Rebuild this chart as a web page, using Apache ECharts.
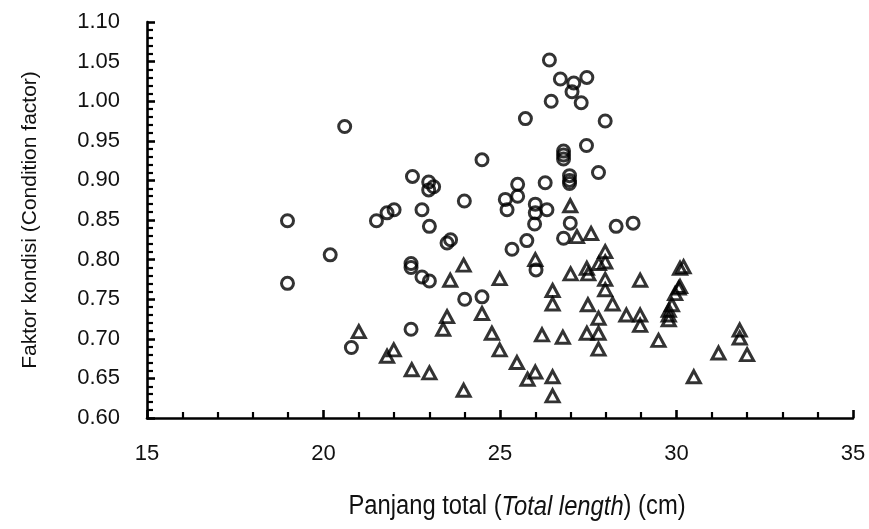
<!DOCTYPE html>
<html>
<head>
<meta charset="utf-8">
<script src="https://cdn.jsdelivr.net/npm/echarts@6/dist/echarts.min.js"></script>
<style>
  html, body { margin: 0; padding: 0; background: #fff; }
  #chart { width: 869px; height: 529px; }
</style>
</head>
<body>
<div id="chart"></div>
<script>
// circle markers: [length cm, condition factor]
var circlePoints = [
    [18.98, 0.849], [18.98, 0.770], [20.19, 0.806], [20.60, 0.968], [20.79, 0.689],
    [21.50, 0.849], [21.80, 0.859], [22.00, 0.863], [22.52, 0.905], [22.48, 0.795],
    [22.48, 0.790], [22.48, 0.712], [22.79, 0.863], [22.79, 0.778], [22.98, 0.898],
    [22.98, 0.888], [23.12, 0.892], [23.00, 0.842], [23.00, 0.773], [23.50, 0.821],
    [23.60, 0.825], [23.99, 0.874], [24.00, 0.750], [24.49, 0.926], [24.49, 0.753],
    [25.15, 0.876], [25.20, 0.863], [25.34, 0.813], [25.50, 0.895], [25.50, 0.880],
    [25.72, 0.978], [25.76, 0.824], [26.00, 0.870], [26.00, 0.859], [25.98, 0.845],
    [26.02, 0.787], [26.28, 0.897], [26.33, 0.863], [26.40, 1.052], [26.45, 1.000],
    [26.71, 1.028], [26.80, 0.937], [26.80, 0.932], [26.80, 0.927], [26.80, 0.827],
    [27.09, 1.023], [27.04, 1.012], [26.97, 0.906], [26.97, 0.900], [26.97, 0.896],
    [26.99, 0.846], [27.30, 0.998], [27.46, 1.030], [27.45, 0.944], [27.79, 0.910],
    [27.98, 0.975], [28.29, 0.842], [28.77, 0.846]
];

// triangle markers
var trianglePoints = [
    [21.00, 0.709], [21.80, 0.678], [21.99, 0.686], [22.50, 0.661], [23.00, 0.657],
    [23.39, 0.712], [23.50, 0.728], [23.59, 0.774], [23.97, 0.793], [23.97, 0.635],
    [24.49, 0.732], [24.77, 0.707], [24.99, 0.776], [24.99, 0.686], [25.48, 0.670],
    [25.78, 0.649], [26.00, 0.658], [26.00, 0.800], [26.19, 0.705], [26.49, 0.761],
    [26.49, 0.744], [26.49, 0.652], [26.49, 0.628], [26.78, 0.702], [26.99, 0.868],
    [27.00, 0.782], [27.18, 0.829], [27.46, 0.789], [27.50, 0.782], [27.49, 0.743],
    [27.46, 0.707], [27.58, 0.833], [27.79, 0.726], [27.79, 0.707], [27.79, 0.687],
    [27.80, 0.795], [27.98, 0.810], [27.98, 0.797], [27.98, 0.775], [27.98, 0.762],
    [28.19, 0.744], [28.58, 0.730], [28.97, 0.774], [28.97, 0.730], [28.97, 0.717],
    [29.49, 0.698], [29.78, 0.736], [29.78, 0.730], [29.78, 0.724], [29.87, 0.743],
    [29.96, 0.757], [30.06, 0.764], [30.10, 0.766], [30.10, 0.789], [30.20, 0.791],
    [30.49, 0.652], [31.19, 0.682], [31.79, 0.711], [31.79, 0.701], [32.00, 0.680]
];

var xRange = [15, 35];
var yRange = [0.60, 1.10];

var chartDom = document.getElementById('chart');
var myChart = echarts.init(chartDom, null, { renderer: 'canvas' });

var labelFont = "'Liberation Sans', Arial, sans-serif";

var option = {
    animation: false,
    backgroundColor: '#ffffff',
    grid: { left: 147, right: 16, top: 22, bottom: 111 },
    // x title drawn as text squeezed horizontally, the original uses a narrow face
    graphic: [
        {
            type: 'text',
            x: 517,
            y: 507,
            scaleX: 0.88,
            style: {
                text: '{n|Panjang total (}{i|Total length}{n|) (cm)}',
                align: 'center',
                verticalAlign: 'middle',
                rich: {
                    n: { fontSize: 27, fontFamily: labelFont, fill: '#111' },
                    i: { fontSize: 27, fontFamily: labelFont, fontStyle: 'italic', fill: '#111' }
                }
            }
        }
    ],
    xAxis: {
        type: 'value',
        min: xRange[0],
        max: xRange[1],
        interval: 5,
        splitLine: { show: false },
        axisLine: { lineStyle: { color: '#000', width: 2.6 } },
        axisTick: { inside: true, length: 8, lineStyle: { color: '#000', width: 2.6 } },
        minorTick: { show: true, splitNumber: 5, length: 6, lineStyle: { color: '#000', width: 2.2 } },
        axisLabel: { color: '#111', fontSize: 22, fontFamily: labelFont, margin: 25 }
    },
    yAxis: {
        type: 'value',
        min: yRange[0],
        max: yRange[1],
        interval: 0.05,
        splitLine: { show: false },
        axisLine: { onZero: false, lineStyle: { color: '#000', width: 2.6 } },
        axisTick: { inside: true, length: 8, lineStyle: { color: '#000', width: 2.6 } },
        minorTick: { show: true, splitNumber: 5, length: 6, lineStyle: { color: '#000', width: 2.2 } },
        axisLabel: {
            color: '#111', fontSize: 22, fontFamily: labelFont, margin: 27,
            formatter: function (v) { return v.toFixed(2); }
        },
        name: 'Faktor kondisi (Condition factor)',
        nameLocation: 'middle',
        nameGap: 106,
        nameTextStyle: { fontSize: 21, fontFamily: labelFont, color: '#111' }
    },
    series: [
        {
            name: 'circle',
            type: 'scatter',
            data: circlePoints,
            symbol: 'circle',
            symbolSize: 12,
            itemStyle: { color: 'rgba(255,255,255,0)', borderColor: '#000', borderWidth: 3 }
        },
        {
            name: 'triangle',
            type: 'scatter',
            data: trianglePoints,
            symbol: 'triangle',
            symbolSize: [13, 12],
            itemStyle: { color: 'rgba(255,255,255,0)', borderColor: '#000', borderWidth: 3 }
        }
    ]
};

option && myChart.setOption(option);
</script>
</body>
</html>
